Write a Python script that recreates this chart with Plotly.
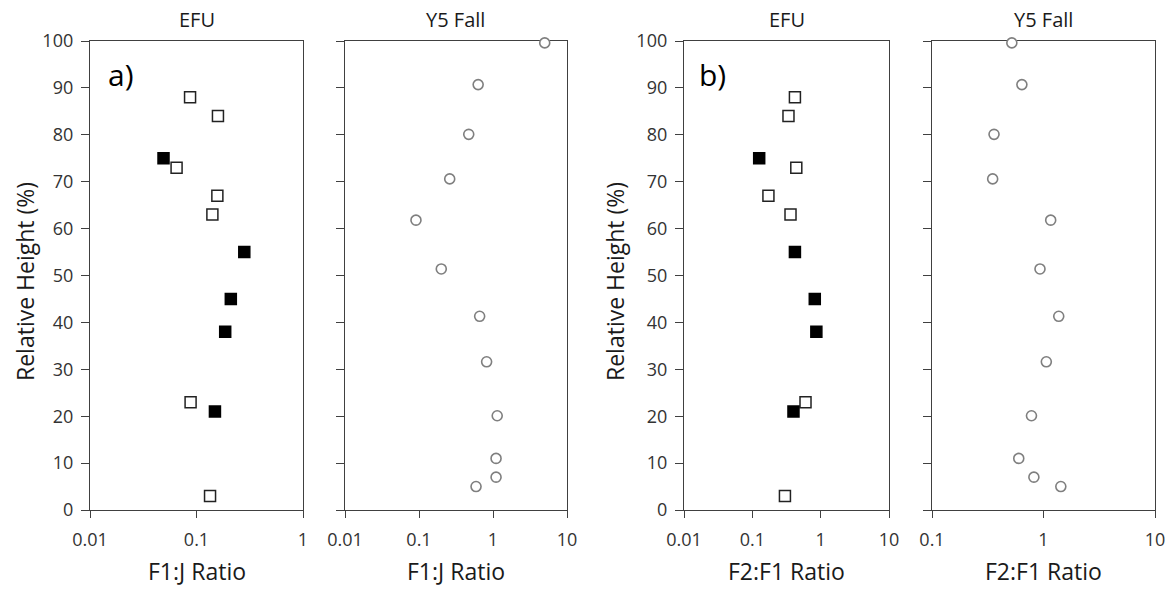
import plotly.graph_objects as go

# Relative heights (%) of the sampled levels
h_filled = [75, 55, 45, 38, 21]
h_open = [88, 84, 73, 67, 63, 23, 3]
h_y5 = [99.6, 90.7, 80.1, 70.6, 61.8, 51.4, 41.3, 31.6, 20.1, 11.0, 7.0, 5.0]

# a) F1:J ratio
efu_f1j_filled = [0.049, 0.281, 0.21, 0.186, 0.149]
efu_f1j_open = [0.087, 0.159, 0.065, 0.157, 0.141, 0.088, 0.134]
y5_f1j = [5.0, 0.63, 0.47, 0.26, 0.091, 0.20, 0.66, 0.82, 1.14, 1.10, 1.10, 0.59]

# b) F2:F1 ratio
efu_f2f1_filled = [0.126, 0.42, 0.82, 0.865, 0.40]
efu_f2f1_open = [0.42, 0.338, 0.44, 0.172, 0.362, 0.60, 0.30]
y5_f2f1 = [0.52, 0.64, 0.36, 0.35, 1.16, 0.93, 1.37, 1.06, 0.78, 0.60, 0.82, 1.43]

tick_vals = [0.01, 0.1, 1, 10]
tick_text = ["0.01", "0.1", "1", "10"]
y_ticks = list(range(0, 101, 10))

W, H = 1173, 589
FONT = "Open Sans"
AXIS_COL = "#404040"
TEXT_COL = "#333333"
TITLE_COL = "#1a1a1a"

# panel pixel extents (left, right) and shared vertical extent
panels = [(90, 303), (345, 567), (684, 889), (932, 1155)]
top_px, bot_px = 41, 510
x_ranges = [[-2, 0], [-2, 1], [-2, 1], [-1, 1]]
titles = ["EFU", "Y5 Fall", "EFU", "Y5 Fall"]
x_titles = ["F1:J Ratio", "F1:J Ratio", "F2:F1 Ratio", "F2:F1 Ratio"]

fig = go.Figure()

sq_open = dict(symbol="square", size=11, color="white", line=dict(color="#222222", width=1.5))
sq_filled = dict(symbol="square", size=11, color="black", line=dict(color="black", width=1.5))
circ = dict(symbol="circle", size=10, color="white", line=dict(color="#7f7f7f", width=1.6))

def add(xs, ys, marker, idx):
    suffix = "" if idx == 1 else str(idx)
    fig.add_trace(go.Scatter(x=xs, y=ys, mode="markers", marker=marker,
                             xaxis="x" + suffix, yaxis="y" + suffix,
                             cliponaxis=False, showlegend=False, hoverinfo="x+y"))

add(efu_f1j_open, h_open, sq_open, 1)
add(efu_f1j_filled, h_filled, sq_filled, 1)
add(y5_f1j, h_y5, circ, 2)
add(efu_f2f1_open, h_open, sq_open, 3)
add(efu_f2f1_filled, h_filled, sq_filled, 3)
add(y5_f2f1, h_y5, circ, 4)

layout = dict(
    width=W, height=H,
    margin=dict(l=0, r=0, t=0, b=0),
    paper_bgcolor="white", plot_bgcolor="white",
    font=dict(family=FONT, size=18, color=TEXT_COL),
    showlegend=False,
)

y_dom = [1 - bot_px / H, 1 - top_px / H]
annotations = []
for i, ((l, r), xr) in enumerate(zip(panels, x_ranges)):
    n = i + 1
    xk = "xaxis" if n == 1 else f"xaxis{n}"
    yk = "yaxis" if n == 1 else f"yaxis{n}"
    xa = "x" if n == 1 else f"x{n}"
    ya = "y" if n == 1 else f"y{n}"
    layout[xk] = dict(
        type="log", range=xr, domain=[l / W, r / W], anchor=ya,
        tickvals=tick_vals, ticktext=tick_text,
        ticks="outside", ticklen=7, tickwidth=1.3, tickcolor=AXIS_COL,
        ticklabelstandoff=6,
        showline=True, linecolor=AXIS_COL, linewidth=1.3, mirror=True,
        showgrid=False, zeroline=False, layer="below traces", automargin=False,
        tickfont=dict(size=18, color=TEXT_COL, family=FONT),
    )
    show_labels = n in (1, 3)
    layout[yk] = dict(
        range=[0, 100], domain=y_dom, anchor=xa,
        tickvals=y_ticks, showticklabels=show_labels,
        ticks="outside", ticklen=8, tickwidth=1.3, tickcolor=AXIS_COL,
        ticklabelstandoff=4,
        showline=True, linecolor=AXIS_COL, linewidth=1.3, mirror=True,
        showgrid=False, zeroline=False, layer="below traces", automargin=False,
        tickfont=dict(size=18, color=TEXT_COL, family=FONT),
    )
    cx = (l + r) / 2 / W
    annotations.append(dict(text=titles[i], x=cx, y=1 - 20 / H, xref="paper", yref="paper",
                            showarrow=False, xanchor="center", yanchor="middle",
                            font=dict(size=20, color=TITLE_COL, family=FONT)))
    annotations.append(dict(text=x_titles[i], x=cx, y=1 - 571 / H, xref="paper", yref="paper",
                            showarrow=False, xanchor="center", yanchor="middle",
                            font=dict(size=23, color=TITLE_COL, family=FONT)))

for px in (25, 615):
    annotations.append(dict(text="Relative Height (%)", x=px / W, y=1 - 282 / H,
                            xref="paper", yref="paper", showarrow=False, textangle=-90,
                            xanchor="center", yanchor="middle",
                            font=dict(size=23, color=TITLE_COL, family=FONT)))

for lbl, px in (("a)", 121), ("b)", 712)):
    annotations.append(dict(text=lbl, x=px / W, y=1 - 75 / H, xref="paper", yref="paper",
                            showarrow=False, xanchor="center", yanchor="middle",
                            font=dict(size=30, color="black", family=FONT)))

layout["annotations"] = annotations
fig.update_layout(**layout)
fig.write_html("out.html")
